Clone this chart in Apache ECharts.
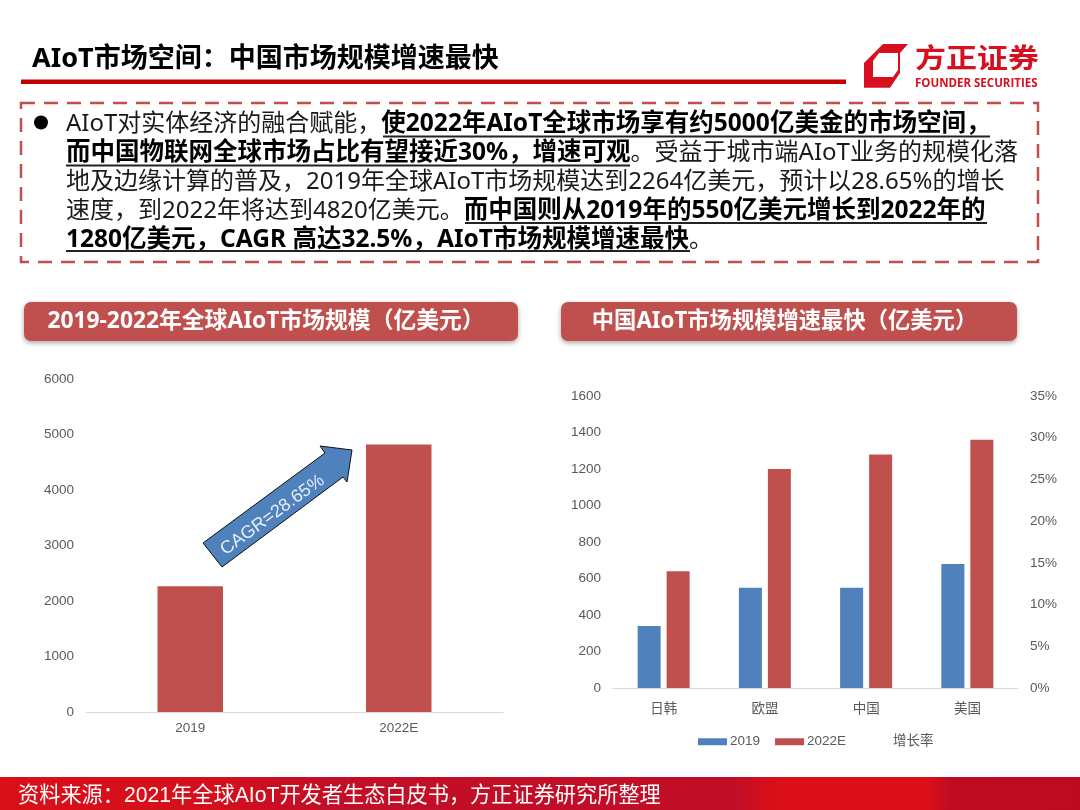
<!DOCTYPE html>
<html lang="zh-CN">
<head>
    <meta charset="UTF-8">
    <title>AIoT市场空间</title>
    <script type="text/javascript" src="https://cdn.jsdelivr.net/npm/echarts@6/dist/echarts.min.js"></script>
    <style>
        html, body { margin: 0; padding: 0; background: #fff; }
    </style>
</head>
<body>
    <div id="main" style="width: 1080px;height:810px;"></div>

    <script type="text/javascript">
        // left chart
        var globalYears = ['2019', '2022E'];
        var globalSize = [2264, 4820];
        var globalTicks = [0, 1000, 2000, 3000, 4000, 5000, 6000];

        // right chart
        var regions = ['日韩', '欧盟', '中国', '美国'];
        var size2019 = [340, 550, 550, 680];
        var size2022 = [640, 1200, 1280, 1360];
        var growthRate = [];  // the line is not visible in the picture, only its legend entry

        var FONT = '"Liberation Sans", "Noto Sans CJK SC", sans-serif';
        var SLIDE_FONT = '"Noto Sans", "Noto Sans CJK SC", sans-serif';
        var RED = '#c0504d';
        var BLUE = '#4f81bd';
        var LABEL = '#595959';

        // body text, one entry per line: n = normal, b = bold
        var bodyLines = [
            {y: 124, text: '{n|AIoT对实体经济的融合赋能，}{b|使2022年AIoT全球市场享有约5000亿美金的市场空间，}'},
            {y: 153, text: '{b|而中国物联网全球市场占比有望接近30%，增速可观}{n|。受益于城市端AIoT业务的规模化落}'},
            {y: 182, text: '{n|地及边缘计算的普及，2019年全球AIoT市场规模达到2264亿美元，预计以28.65%的增长}'},
            {y: 211, text: '{n|速度，到2022年将达到4820亿美元。}{b|而中国则从2019年的550亿美元增长到2022年的}'},
            {y: 240, text: '{b|1280亿美元，CAGR 高达32.5%，AIoT市场规模增速最快}{n|。}'}
        ];
        var underlines = [[383, 990, 136.5], [66, 630, 165.5], [465, 987, 223], [66, 690, 251]];

        var graphic = [];

        // header
        graphic.push({type: 'text', x: 32, y: 59, style: {
            text: 'AIoT市场空间：中国市场规模增速最快', fill: '#000', font: 'bold 27px ' + SLIDE_FONT, verticalAlign: 'middle'
        }});
        graphic.push({type: 'rect', shape: {x: 21, y: 79.5, width: 825, height: 4.5}, style: {fill: '#c00000'}});

        // logo
        graphic.push({type: 'polygon', shape: {points: [[864, 63], [883, 44], [908, 44], [900, 53], [900, 73], [890, 87.7], [864, 87.7]]}, style: {fill: '#d7101f'}});
        graphic.push({type: 'polygon', shape: {points: [[873, 61], [879, 53], [898, 53], [898, 70], [893, 77], [873, 77]]}, style: {fill: '#fff'}});
        graphic.push({type: 'text', x: 915, y: 58, scaleY: 0.88, style: {text: '方正证券', fill: '#d7101f', font: 'bold 31px "Noto Sans CJK SC"', verticalAlign: 'middle'}});
        graphic.push({type: 'text', left: 915, top: 78, style: {text: 'FOUNDER SECURITIES', fill: '#d7101f', font: 'bold 11.5px "Open Sans"'}});

        // dashed box and bullet
        graphic.push({type: 'rect', shape: {x: 21, y: 103, width: 1017, height: 159}, style: {
            fill: 'none', stroke: RED, lineWidth: 2.5, lineDash: [14, 9]
        }});
        graphic.push({type: 'circle', shape: {cx: 41, cy: 122.5, r: 7}, style: {fill: '#000'}});

        bodyLines.forEach(function (line) {
            graphic.push({type: 'text', x: 66, y: line.y, style: {
                text: line.text,
                verticalAlign: 'middle',
                rich: {
                    n: {font: '24px ' + SLIDE_FONT, fill: '#1a1a1a'},
                    b: {font: 'bold 24.5px ' + SLIDE_FONT, fill: '#000'}
                }
            }});
        });
        underlines.forEach(function (u) {
            graphic.push({type: 'line', shape: {x1: u[0], y1: u[2], x2: u[1], y2: u[2]}, style: {stroke: '#222', lineWidth: 2}});
        });

        // section headers
        [[24, 494, 266, 22.8, '2019-2022年全球AIoT市场规模（亿美元）'], [561, 456, 784.5, 22.3, '中国AIoT市场规模增速最快（亿美元）']].forEach(function (p) {
            graphic.push({type: 'rect', shape: {x: p[0], y: 302, width: p[1], height: 39, r: 7}, style: {
                fill: RED, shadowBlur: 5, shadowOffsetY: 2, shadowColor: 'rgba(0,0,0,0.35)'
            }});
            graphic.push({type: 'text', x: p[2], y: 322, style: {
                text: p[4], fill: '#fff', font: 'bold ' + p[3] + 'px ' + SLIDE_FONT, align: 'center', verticalAlign: 'middle'
            }});
        });

        // CAGR arrow
        graphic.push({type: 'polygon', z: 100, shape: {points: [[203, 543], [222, 567], [343, 477], [347, 482], [352, 450], [320, 446], [325, 453]]}, style: {
            fill: BLUE, stroke: '#111', lineWidth: 1
        }});
        graphic.push({type: 'text', z: 101, x: 272.5, y: 515, rotation: 0.63, style: {
            text: 'CAGR=28.65%', fill: '#e8eef6', font: '18px ' + FONT, align: 'center', verticalAlign: 'middle'
        }});

        // footer
        graphic.push({type: 'rect', shape: {x: 0, y: 777, width: 1080, height: 33}, style: {
            fill: new echarts.graphic.LinearGradient(0, 0, 1, 0, [
                {offset: 0, color: '#da0f18'},
                {offset: 0.2, color: '#d40f1c'},
                {offset: 0.3, color: '#c20e26'},
                {offset: 0.68, color: '#c10e26'},
                {offset: 0.72, color: '#da0f18'},
                {offset: 0.86, color: '#da0f18'},
                {offset: 0.88, color: '#bf0c22'},
                {offset: 1, color: '#bd0b22'}
            ])
        }});
        graphic.push({type: 'text', x: 18, y: 796, style: {
            text: '资料来源：2021年全球AIoT开发者生态白皮书，方正证券研究所整理',
            fill: '#fff', font: '21.2px ' + FONT, verticalAlign: 'middle'
        }});

        function valueAxis(gridIndex, max, interval, position, formatter) {
            return {
                type: 'value',
                gridIndex: gridIndex,
                position: position,
                min: 0,
                max: max,
                interval: interval,
                axisLine: {show: false},
                axisTick: {show: false},
                splitLine: {show: false},
                axisLabel: {color: LABEL, fontFamily: FONT, fontSize: 13.5, margin: 12, formatter: formatter || function (v) { return String(v); }}
            };
        }

        function categoryAxis(gridIndex, data, margin) {
            return {
                type: 'category',
                gridIndex: gridIndex,
                data: data,
                axisLine: {lineStyle: {color: '#d9d9d9', width: 1}},
                axisTick: {show: false},
                axisLabel: {color: LABEL, fontFamily: FONT, fontSize: 13.5, margin: margin}
            };
        }

        var myChart = echarts.init(document.getElementById('main'), null, {width: 1080, height: 810});

        var option = {
            animation: false,
            backgroundColor: '#fff',
            textStyle: {fontFamily: FONT},
            graphic: graphic,
            grid: [
                {left: 86, top: 379, width: 417, height: 333},
                {left: 613, top: 396, width: 405, height: 292}
            ],
            xAxis: [
                categoryAxis(0, globalYears, 10),
                categoryAxis(1, regions, 15)
            ],
            yAxis: [
                valueAxis(0, globalTicks[globalTicks.length - 1], 1000, 'left'),
                valueAxis(1, 1600, 200, 'left'),
                valueAxis(1, 0.35, 0.05, 'right', function (v) { return Math.round(v * 100) + '%'; })
            ],
            legend: {
                left: 693,
                top: 730,
                itemWidth: 29,
                itemHeight: 7,
                itemGap: 15,
                itemStyle: {borderWidth: 0},
                textStyle: {color: LABEL, fontSize: 13.5, fontFamily: FONT, padding: [0, 0, 0, -2]},
                data: [
                    {name: '2019', icon: 'rect'},
                    {name: '2022E', icon: 'rect'},
                    {name: '增长率', icon: 'rect', itemStyle: {opacity: 0}, lineStyle: {opacity: 0}}
                ]
            },
            series: [
                {
                    name: '全球AIoT市场规模',
                    type: 'bar',
                    xAxisIndex: 0,
                    yAxisIndex: 0,
                    barWidth: 65.5,
                    itemStyle: {color: RED},
                    data: globalSize
                },
                {
                    name: '2019',
                    type: 'bar',
                    xAxisIndex: 1,
                    yAxisIndex: 1,
                    barWidth: 23,
                    barGap: '26%',
                    itemStyle: {color: BLUE},
                    data: size2019
                },
                {
                    name: '2022E',
                    type: 'bar',
                    xAxisIndex: 1,
                    yAxisIndex: 1,
                    barWidth: 23,
                    barGap: '26%',
                    itemStyle: {color: RED},
                    data: size2022
                },
                {
                    name: '增长率',
                    type: 'line',
                    xAxisIndex: 1,
                    yAxisIndex: 2,
                    showSymbol: false,
                    lineStyle: {opacity: 0},
                    data: growthRate
                }
            ]
        };

        myChart.setOption(option);
    </script>
</body>
</html>
